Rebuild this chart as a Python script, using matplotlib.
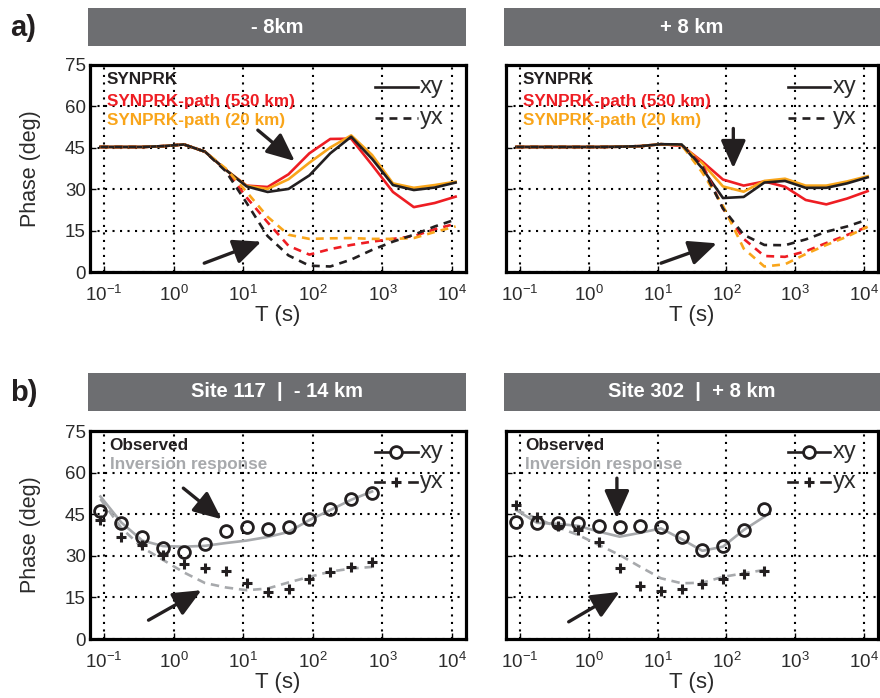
import numpy as np
import matplotlib
matplotlib.use("Agg")
import matplotlib.pyplot as plt
from matplotlib.patches import Rectangle
from matplotlib.ticker import FixedLocator, FuncFormatter, NullLocator

plt.rcParams['font.family'] = ['Liberation Sans', 'DejaVu Sans']
plt.rcParams['mathtext.fontset'] = 'custom'
plt.rcParams['mathtext.rm'] = 'Liberation Sans'
plt.rcParams['mathtext.it'] = 'Liberation Sans:italic'
plt.rcParams['mathtext.bf'] = 'Liberation Sans:bold'

NARROW = ['Liberation Sans Narrow', 'Liberation Sans', 'DejaVu Sans']

BLACK = '#231f20'
RED = '#ee1d23'
ORANGE = '#f9a51a'
GREY = '#a7a9ac'
BAR = '#6d6e71'
TXT = '#2b2b2b'

# ---- synthetic responses (panel a), periods in seconds ----
T_syn = [0.089, 0.178, 0.355, 0.708, 1.41, 2.82, 5.62, 11.2, 22.4, 44.7,
         89.1, 178, 355, 708, 1413, 2818, 5623, 11220]

# -8 km
syn_xy_L  = [45.3, 45.3, 45.3, 45.6, 46.2, 43.6, 37.0, 31.0, 29.0, 30.1, 35.0, 43.0, 49.0, 41.0, 31.5, 29.7, 30.6, 32.4]
p530_xy_L = [45.3, 45.3, 45.3, 45.6, 46.2, 43.6, 37.0, 31.3, 30.8, 35.4, 43.0, 48.2, 48.3, 38.8, 29.0, 23.5, 25.0, 27.3]
p20_xy_L  = [45.3, 45.3, 45.3, 45.6, 46.2, 43.6, 37.0, 31.2, 30.1, 33.6, 39.6, 45.1, 49.5, 42.4, 32.1, 30.5, 31.5, 32.7]
syn_yx_L  = [45.3, 45.3, 45.3, 45.6, 46.2, 43.6, 36.5, 25.0, 13.0, 6.0, 2.3, 2.0, 4.5, 8.0, 11.0, 13.5, 16.5, 19.0]
p530_yx_L = [45.3, 45.3, 45.3, 45.6, 46.2, 43.6, 37.0, 27.0, 18.0, 9.5, 6.3, 8.3, 9.8, 11.0, 12.0, 13.0, 15.5, 17.5]
p20_yx_L  = [45.3, 45.3, 45.3, 45.6, 46.2, 43.6, 37.5, 29.0, 20.0, 13.5, 12.0, 12.2, 12.3, 12.0, 12.0, 12.3, 14.5, 16.5]

# +8 km
syn_xy_R  = [45.3, 45.3, 45.3, 45.3, 45.3, 45.4, 45.6, 46.3, 46.2, 37.5, 26.8, 27.2, 32.4, 33.0, 30.5, 30.5, 32.1, 34.3]
p530_xy_R = [45.3, 45.3, 45.3, 45.3, 45.3, 45.4, 45.6, 46.3, 45.8, 40.0, 33.5, 31.3, 32.8, 30.9, 26.1, 24.5, 26.6, 29.3]
p20_xy_R  = [45.3, 45.3, 45.3, 45.3, 45.3, 45.4, 45.6, 46.3, 46.0, 39.4, 31.0, 29.1, 33.0, 33.8, 31.3, 31.3, 32.8, 34.7]
syn_yx_R  = [45.3, 45.3, 45.3, 45.3, 45.3, 45.4, 45.6, 46.3, 46.2, 38.0, 23.0, 13.5, 9.8, 9.7, 11.8, 14.6, 16.5, 19.0]
p530_yx_R = [45.3, 45.3, 45.3, 45.3, 45.3, 45.4, 45.6, 46.3, 45.8, 39.0, 23.0, 12.0, 5.8, 5.5, 7.5, 10.5, 13.4, 16.4]
p20_yx_R  = [45.3, 45.3, 45.3, 45.3, 45.3, 45.4, 45.6, 46.3, 46.0, 36.0, 24.0, 8.5, 2.0, 2.8, 6.5, 9.8, 12.8, 16.4]

# ---- observed data and inversion response (panel b) ----
T_117 = [0.089, 0.178, 0.355, 0.708, 1.41, 2.82, 5.62, 11.2, 22.4, 44.7, 89.1, 178, 355, 708]
obs_xy_117 = [46.3, 41.7, 36.9, 32.7, 31.5, 34.3, 39.0, 40.3, 39.6, 40.3, 43.2, 46.9, 50.5, 52.6]
obs_yx_117 = [42.9, 36.7, 33.9, 30.3, 27.0, 25.5, 24.6, 20.1, 17.0, 18.2, 21.5, 24.3, 25.8, 27.9]
inv_xy_117 = [51.4, 42.0, 35.5, 33.5, 33.3, 33.6, 34.6, 35.5, 36.8, 38.6, 42.9, 46.5, 50.2, 53.2]
inv_yx_117 = [50.5, 40.0, 33.0, 28.5, 24.0, 20.2, 18.6, 17.6, 18.2, 20.4, 22.4, 24.3, 25.4, 26.0]

T_302 = [0.089, 0.178, 0.355, 0.708, 1.41, 2.82, 5.62, 11.2, 22.4, 44.7, 89.1, 178, 355]
obs_xy_302 = [42.3, 41.7, 42.0, 41.7, 40.8, 40.3, 40.8, 40.3, 36.7, 32.1, 33.5, 39.3, 46.8]
obs_yx_302 = [48.4, 44.1, 40.8, 39.3, 35.1, 25.5, 19.1, 17.4, 18.2, 19.8, 21.5, 23.4, 24.6]
inv_xy_302 = [46.5, 41.9, 41.5, 40.8, 38.7, 36.9, 38.3, 39.9, 36.0, 31.8, 33.3, 39.3, 44.1]
inv_yx_302 = [46.5, 43.5, 40.3, 37.5, 33.9, 30.3, 26.0, 21.9, 20.1, 20.3, 22.4, 23.7, 24.9]

panel_titles = ['- 8km', '+ 8 km', 'Site 117  |  - 14 km', 'Site 302  |  + 8 km']

# arrows as (log10 T, phase) tail -> tip
arrows = {
    'aL': [((1.21, 51.4), (1.74, 40.2)), ((0.44, 3.2), (1.26, 11.0))],
    'aR': [((2.10, 52.0), (2.10, 37.6)), ((1.05, 3.2), (1.86, 10.4))],
    'bL': [((0.14, 54.4), (0.69, 43.2)), ((-0.36, 6.8), (0.40, 17.6))],
    'bR': [((0.41, 58.0), (0.41, 43.5)), ((-0.29, 6.2), (0.45, 17.0))],
}

LW = 1.9
DASH = (3.0, 2.3)

fig = plt.figure(figsize=(8.8, 6.98), dpi=100)

ax_aL = fig.add_axes([0.1023, 0.6103, 0.4273, 0.2966])
ax_aR = fig.add_axes([0.5750, 0.6103, 0.4227, 0.2966])
ax_bL = fig.add_axes([0.1023, 0.0845, 0.4273, 0.2980])
ax_bR = fig.add_axes([0.5750, 0.0845, 0.4227, 0.2980])


def style_axes(ax, ylabels):
    ax.set_xscale('log')
    ax.set_xlim(10 ** -1.2, 10 ** 4.2)
    ax.set_ylim(0, 75)
    ax.xaxis.set_major_locator(FixedLocator([10.0 ** k for k in range(-1, 5)]))
    ax.xaxis.set_minor_locator(NullLocator())
    ax.xaxis.set_major_formatter(FuncFormatter(
        lambda v, p: r'$\mathregular{10^{%d}}$' % round(np.log10(v))))
    ax.set_yticks(range(0, 76, 15))
    if not ylabels:
        ax.set_yticklabels([])
    else:
        ax.set_ylabel('Phase (deg)', fontsize=15.5, labelpad=17, color=TXT)
    ax.tick_params(direction='in', length=4, width=1, labelsize=13.5,
                   labelcolor=TXT)
    ax.tick_params(axis='y', pad=3)
    ax.tick_params(axis='x', pad=9)
    ax.grid(True, which='major', color='black', linestyle=(0, (1, 2.6)),
            linewidth=1.5)
    for sp in ax.spines.values():
        sp.set_linewidth(2.3)
        sp.set_color('black')
    ax.set_xlabel('T (s)', fontsize=16, labelpad=0.5, color=TXT)


def draw_arrows(ax, items):
    for tail, tip in items:
        ax.annotate('', xy=(10 ** tip[0], tip[1]), xytext=(10 ** tail[0], tail[1]),
                    arrowprops=dict(arrowstyle='-|>,head_length=0.85,head_width=0.38',
                                    lw=2.4, color=BLACK, shrinkA=0, shrinkB=0,
                                    mutation_scale=20),
                    zorder=6)


def key_text(ax, y, label):
    ax.text(0.878, y, label, transform=ax.transAxes, fontsize=17,
            va='center', ha='left', color=TXT, zorder=7)


def synprk_panel(ax, xy_sets, yx_sets):
    colors = [RED, ORANGE, BLACK]
    for vals, c in zip(xy_sets, colors):
        ax.plot(T_syn, vals, '-', color=c, lw=LW, zorder=3)
    for vals, c in zip(yx_sets, colors):
        ax.plot(T_syn, vals, '--', color=c, lw=LW, dashes=DASH, zorder=3)
    ys = [0.928, 0.826, 0.734]
    names = ['SYNPRK', 'SYNPRK-path (530 km)', 'SYNPRK-path (20 km)']
    for y, n, c in zip(ys, names, [BLACK, RED, ORANGE]):
        ax.text(0.045, y, n, transform=ax.transAxes, color=c, fontsize=12.3,
                fontweight='bold', va='center', ha='left', zorder=7)
    # line-type key
    ax.plot([0.758, 0.872], [0.892, 0.892], '-', color=BLACK, lw=LW,
            transform=ax.transAxes, clip_on=False, zorder=7)
    ax.plot([0.758, 0.872], [0.742, 0.742], '--', color=BLACK, lw=LW,
            dashes=DASH, transform=ax.transAxes, clip_on=False, zorder=7)
    key_text(ax, 0.892, 'xy')
    key_text(ax, 0.742, 'yx')


def site_panel(ax, T, obs_xy, obs_yx, inv_xy, inv_yx):
    ax.plot(T, inv_xy, '-', color=GREY, lw=LW, zorder=3)
    ax.plot(T, inv_yx, '--', color=GREY, lw=LW, dashes=(3.2, 2.2), zorder=3)
    ax.plot(T, obs_xy, 'o', mfc='none', mec=BLACK, mew=2.0, ms=8.5, zorder=4)
    ax.plot(T, obs_yx, '+', mec=BLACK, mew=2.2, ms=7, zorder=4)
    ax.text(0.052, 0.928, 'Observed', transform=ax.transAxes, color=BLACK,
            fontsize=12.3, fontweight='bold', va='center', ha='left', zorder=7)
    ax.text(0.052, 0.837, 'Inversion response', transform=ax.transAxes,
            color=GREY, fontsize=12.3, fontweight='bold', va='center',
            ha='left', zorder=7)
    ax.plot([0.758, 0.815, 0.872], [0.898] * 3, '-', color=BLACK, lw=LW,
            marker='o', markevery=[1], mfc='white', mec=BLACK, mew=2.0, ms=8.5,
            transform=ax.transAxes, clip_on=False, zorder=7)
    for seg in ([0.758, 0.782], [0.848, 0.870]):
        ax.plot(seg, [0.756, 0.756], '-', color=BLACK, lw=LW,
                transform=ax.transAxes, clip_on=False, zorder=7)
    ax.plot([0.815], [0.756], '+', mec=BLACK, mew=2.2, ms=7,
            transform=ax.transAxes, clip_on=False, zorder=7)
    key_text(ax, 0.898, 'xy')
    key_text(ax, 0.756, 'yx')


style_axes(ax_aL, True)
style_axes(ax_aR, False)
style_axes(ax_bL, True)
style_axes(ax_bR, False)

synprk_panel(ax_aL, [p530_xy_L, p20_xy_L, syn_xy_L], [p530_yx_L, p20_yx_L, syn_yx_L])
synprk_panel(ax_aR, [p530_xy_R, p20_xy_R, syn_xy_R], [p530_yx_R, p20_yx_R, syn_yx_R])
site_panel(ax_bL, T_117, obs_xy_117, obs_yx_117, inv_xy_117, inv_yx_117)
site_panel(ax_bR, T_302, obs_xy_302, obs_yx_302, inv_xy_302, inv_yx_302)

draw_arrows(ax_aL, arrows['aL'])
draw_arrows(ax_aR, arrows['aR'])
draw_arrows(ax_bL, arrows['bL'])
draw_arrows(ax_bR, arrows['bR'])

# grey header bars
bar_boxes = [(0.100, 0.934, 0.4295), (0.5727, 0.934, 0.4273),
             (0.100, 0.4112, 0.4295), (0.5727, 0.4112, 0.4273)]
for (x0, y0, w), title in zip(bar_boxes, panel_titles):
    fig.add_artist(Rectangle((x0, y0), w, 0.0544, transform=fig.transFigure,
                             facecolor=BAR, edgecolor='none'))
    fig.text(x0 + w / 2, y0 + 0.0272, title, color='white', fontsize=14.5,
             fontweight='bold', family=NARROW, ha='center', va='center')

fig.text(0.012, 0.960, 'a)', fontsize=21, fontweight='bold', family=NARROW,
         ha='left', va='center', color=BLACK)
fig.text(0.012, 0.437, 'b)', fontsize=21, fontweight='bold', family=NARROW,
         ha='left', va='center', color=BLACK)

fig.savefig('out.png', dpi=100)
